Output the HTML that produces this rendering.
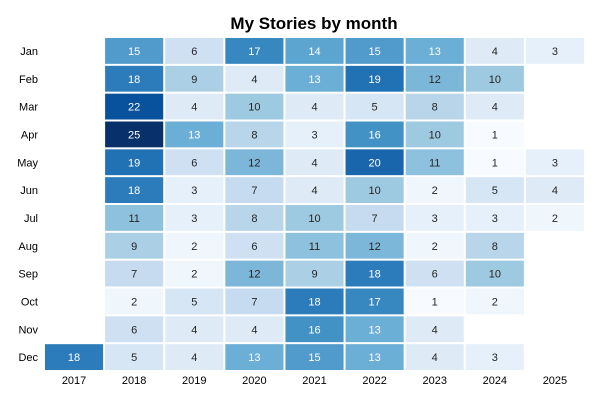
<!DOCTYPE html>
<html><head><meta charset="utf-8"><style>
body{margin:0;background:#fff;}
svg{display:block;font-family:"Liberation Sans",sans-serif;}
</style></head><body>
<svg id="chart" width="600" height="400">
<text x="314" y="29" text-anchor="middle" font-size="17" font-weight="bold" fill="#000">My Stories by month</text>
<g id="cells"></g><g id="xlabels"></g><g id="ylabels"></g>
</svg>
<script>
const months = ["Jan","Feb","Mar","Apr","May","Jun","Jul","Aug","Sep","Oct","Nov","Dec"];
const years = ["2017","2018","2019","2020","2021","2022","2023","2024","2025"];
const v2017 = [null,null,null,null,null,null,null,null,null,null,null,18];
const v2018 = [15,18,22,25,19,18,11,9,7,2,6,5];
const v2019 = [6,9,4,13,6,3,3,2,2,5,4,4];
const v2020 = [17,4,10,8,12,7,8,6,12,7,4,13];
const v2021 = [14,13,4,3,4,4,10,11,9,18,16,15];
const v2022 = [15,19,5,16,20,10,7,12,18,17,13,13];
const v2023 = [13,12,8,10,11,2,3,2,6,1,4,4];
const v2024 = [4,10,4,1,1,5,3,8,10,2,null,3];
const v2025 = [3,null,null,null,3,4,2,null,null,null,null,null];
const series = [v2017,v2018,v2019,v2020,v2021,v2022,v2023,v2024,v2025];
const vmin = 1, vmax = 25;
const stops = ["#f7fbff","#deebf7","#c6dbef","#9ecae1","#6baed6","#4292c6","#2171b5","#08519c","#08306b"];
const x0 = 44, cw = (585-44)/years.length, y0 = 37, ch = (371-37)/months.length;
const xPos = i => x0 + i*cw;
const yPos = j => y0 + j*ch;
function hex(h){return [1,3,5].map(k=>parseInt(h.substr(k,2),16));}
function color(v){
  let t=Math.max(0,Math.min(1,(v-vmin)/(vmax-vmin)))*(stops.length-1);
  let i=Math.min(Math.floor(t),stops.length-2), f=t-i;
  let a=hex(stops[i]), b=hex(stops[i+1]);
  return "rgb("+a.map((c,k)=>Math.round(c+(b[k]-c)*f)).join(",")+")";
}
const NS="http://www.w3.org/2000/svg";
const cells=document.getElementById("cells");
series.forEach((col,i)=>{
  col.forEach((v,j)=>{
    if(v===null) return;
    const r=document.createElementNS(NS,"rect");
    r.setAttribute("x",xPos(i)+1);r.setAttribute("y",yPos(j)+1);
    r.setAttribute("width",cw-2);r.setAttribute("height",ch-2);
    r.setAttribute("fill",color(v));
    
    
    cells.appendChild(r);
    const t=document.createElementNS(NS,"text");
    t.setAttribute("x",xPos(i)+cw/2);t.setAttribute("y",yPos(j)+ch/2+4);
    t.setAttribute("text-anchor","middle");t.setAttribute("font-size","11");
    t.setAttribute("fill",(v-vmin)/(vmax-vmin)>0.48?"#fff":"#262626");
    t.textContent=v;
    
    
    cells.appendChild(t);
  });
});
const xl=document.getElementById("xlabels");
years.forEach((y,i)=>{
  const t=document.createElementNS(NS,"text");
  t.setAttribute("x",xPos(i)+cw/2);t.setAttribute("y",384);
  t.setAttribute("text-anchor","middle");t.setAttribute("font-size","11");t.setAttribute("fill","#000");
  t.textContent=y;
  
  
  xl.appendChild(t);
});
const yl=document.getElementById("ylabels");
months.forEach((m,j)=>{
  const t=document.createElementNS(NS,"text");
  t.setAttribute("x",38);t.setAttribute("y",yPos(j)+ch/2+4);
  t.setAttribute("text-anchor","end");t.setAttribute("font-size","11");t.setAttribute("fill","#000");
  t.textContent=m;
  
  
  yl.appendChild(t);
});
</script>
</body></html>
